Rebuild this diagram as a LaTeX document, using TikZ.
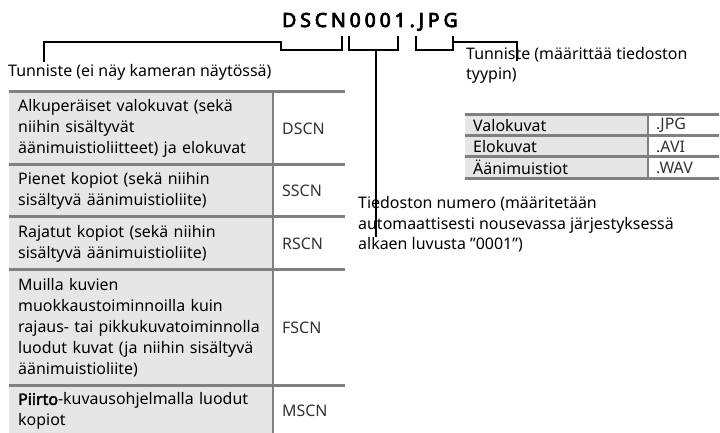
\documentclass[tikz,border=0pt]{standalone}
\usepackage{fontspec}
\setmainfont{Noto Sans}[AutoFakeBold=2.6]
\newfontfamily\titlefont[LetterSpace=20,FakeBold=4]{Noto Sans}
\definecolor{cellgray}{HTML}{E6E6E6}
\definecolor{rulegray}{HTML}{808080}
\definecolor{codegray}{HTML}{333333}
\tikzset{
  lcell/.style={fill=cellgray, anchor=north west, inner xsep=9bp, inner ysep=0pt,
    text width=246bp, align=left, minimum height=#1},
  rcell/.style={fill=white, anchor=north west, inner xsep=9bp, inner ysep=0pt,
    text width=54bp, align=left, minimum height=#1, text=codegray},
  tcellL/.style={fill=cellgray, anchor=north west, inner xsep=8bp, inner ysep=0pt,
    text width=167bp, align=left, minimum height=21bp},
  tcellR/.style={fill=white, anchor=north west, inner xsep=8bp, inner ysep=0pt,
    text width=55bp, align=left, minimum height=21bp, text=codegray},
  rulebar/.style={draw=rulegray, line width=3bp},
  colbar/.style={draw=rulegray, line width=2.5bp},
  bracketline/.style={draw=black, line width=1.8bp},
  lbl/.style={anchor=base west, inner sep=0pt, align=left},
}
\begin{document}
\begin{tikzpicture}[x=1bp,y=-1bp,font=\fontsize{16}{21}\selectfont]
\useasboundingbox (0,0) rectangle (720,433);
\clip (0,0) rectangle (720,433);

% title
\node[anchor=base west, inner sep=0pt, font=\titlefont\fontsize{19.5}{24}\selectfont] (title) at (282,27) {DSCN0001.JPG};

% labels
\node[lbl] (lab1) at (8,77) {Tunniste (ei näy kameran näytössä)};
\node[lbl] (lab2) at (466,80) {Tunniste (määrittää tiedoston\\tyypin)};
\node[lbl] (lab3) at (358,250) {Tiedoston numero (määritetään\\automaattisesti nousevassa järjestyksessä\\alkaen luvusta ”0001”)};

% bracket corner coordinates
\coordinate (l1) at (44,62);
\coordinate (l2) at (376,237);
\coordinate (l3) at (517,61);

\draw[bracketline] (l1) -- (44,42) -- (281,42) -- (281,50) -- (342,50) -- (342,36);
\draw[bracketline] (349,36) -- (349,50) -- (398,50) -- (398,36);
\draw[bracketline] (376,50) -- (l2);
\draw[bracketline] (416,36) -- (416,50) -- (453,50) -- (453,36);
\draw[bracketline] (453,42) -- (517,42) -- (l3);

% left table
\node[lcell=73bp] (r1) at (9,92) {Alkuperäiset valokuvat (sekä\\niihin sisältyvät\\äänimuistioliitteet) ja elokuvat};
\node[rcell=73bp] (c1) at (273,92) {DSCN};
\node[lcell=52bp] (r2) at (9,165) {Pienet kopiot (sekä niihin\\sisältyvä äänimuistioliite)};
\node[rcell=52bp] (c2) at (273,165) {SSCN};
\node[lcell=53bp] (r3) at (9,217) {Rajatut kopiot (sekä niihin\\sisältyvä äänimuistioliite)};
\node[rcell=53bp] (c3) at (273,217) {RSCN};
\node[lcell=115bp] (r4) at (9,270) {Muilla kuvien\\muokkaustoiminnoilla kuin\\rajaus- tai pikkukuvatoiminnolla\\luodut kuvat (ja niihin sisältyvä\\äänimuistioliite)};
\node[rcell=115bp] (c4) at (273,270) {FSCN};
\node[lcell=52bp] (r5) at (9,385) {\textbf{Piirto}-kuvausohjelmalla luodut\\kopiot};
\node[rcell=52bp] (c5) at (273,385) {MSCN};

\draw[colbar] (c1.north west) -- (c5.south west);
\draw[rulebar] (r1.north west) -- (c1.north east);
\draw[rulebar] (r2.north west) -- (c2.north east);
\draw[rulebar] (r3.north west) -- (c3.north east);
\draw[rulebar] (r4.north west) -- (c4.north east);
\draw[rulebar] (r5.north west) -- (c5.north east);

% right table
\node[tcellL] (t1) at (465,115) {Valokuvat};
\node[tcellR] (e1) at (648,115) {.JPG};
\node[tcellL] (t2) at (465,136) {Elokuvat};
\node[tcellR] (e2) at (648,136) {.AVI};
\node[tcellL] (t3) at (465,157) {Äänimuistiot};
\node[tcellR] (e3) at (648,157) {.WAV};

\draw[colbar] (e1.north west) -- (e3.south west);
\draw[rulebar] (t1.north west) -- (e1.north east);
\draw[rulebar] (t2.north west) -- (e2.north east);
\draw[rulebar] (t3.north west) -- (e3.north east);
\draw[rulebar] (t3.south west) -- (e3.south east);
\end{tikzpicture}
\end{document}
